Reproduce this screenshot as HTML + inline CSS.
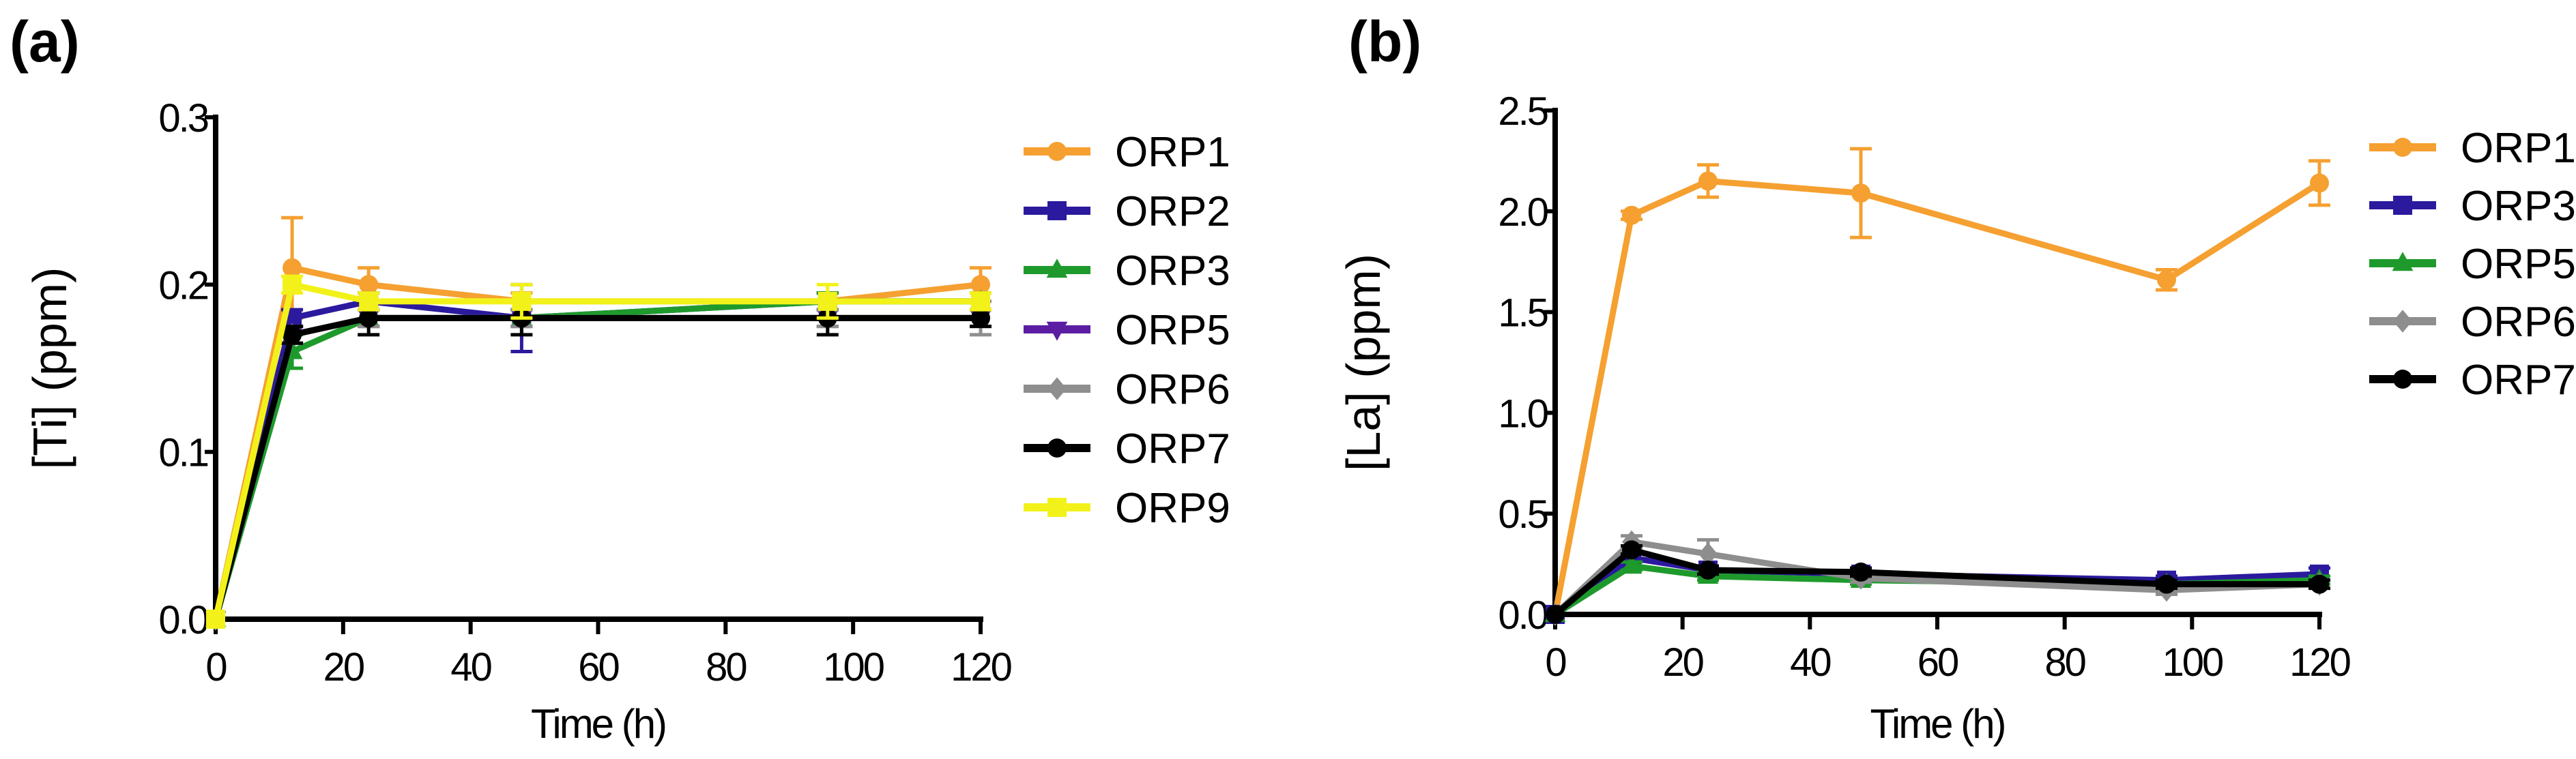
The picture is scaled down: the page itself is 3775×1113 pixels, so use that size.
<!DOCTYPE html>
<html><head><meta charset="utf-8"><style>
html,body{margin:0;padding:0;background:#fff;}
svg{display:block;font-family:"Liberation Sans",sans-serif;}
</style></head><body>
<svg id="fig" width="3775" height="1113" viewBox="0 0 3775 1113"></svg>
<script>
const timesH = [0, 12, 24, 48, 96, 120];
const xTicks = [0, 20, 40, 60, 80, 100, 120];

const aNames = ["ORP1","ORP2","ORP3","ORP5","ORP6","ORP7","ORP9"];
const aColors = ["#f5a031","#2b1a9e","#1e9a2c","#5b1ea3","#8e8e8e","#000000","#f2f21a"];
const aMarkers = ["circle","square","triUp","triDown","diamond","circle","square"];
const aORP1 = [0, 0.21, 0.20, 0.19, 0.19, 0.20];
const aORP2 = [0, 0.18, 0.19, 0.18, 0.19, 0.19];
const aORP3 = [0, 0.16, 0.18, 0.18, 0.19, 0.19];
const aORP5 = [0, 0.17, 0.18, 0.18, 0.18, 0.18];
const aORP6 = [0, 0.17, 0.18, 0.18, 0.18, 0.18];
const aORP7 = [0, 0.17, 0.18, 0.18, 0.18, 0.18];
const aORP9 = [0, 0.20, 0.19, 0.19, 0.19, 0.19];
const aErr1 = [0, 0.03, 0.01, 0.005, 0.005, 0.01];
const aErr2 = [0, 0.005, 0.005, 0.02, 0.005, 0.005];
const aErr3 = [0, 0.01, 0.005, 0.005, 0.005, 0.005];
const aErr5 = [0, 0.005, 0.005, 0.005, 0.005, 0.005];
const aErr6 = [0, 0.005, 0.005, 0.005, 0.005, 0.01];
const aErr7 = [0, 0.005, 0.01, 0.01, 0.01, 0.005];
const aErr9 = [0, 0.005, 0.005, 0.01, 0.01, 0.005];
const aYTicks = ["0.0","0.1","0.2","0.3"];

const bNames = ["ORP1","ORP3","ORP5","ORP6","ORP7"];
const bColors = ["#f5a031","#2b1a9e","#1e9a2c","#8e8e8e","#000000"];
const bMarkers = ["circle","square","triUp","diamond","circle"];
const bORP1 = [0, 1.98, 2.15, 2.09, 1.66, 2.14];
const bORP3 = [0, 0.28, 0.22, 0.20, 0.17, 0.20];
const bORP5 = [0, 0.24, 0.19, 0.17, 0.15, 0.17];
const bORP6 = [0, 0.36, 0.30, 0.18, 0.12, 0.15];
const bORP7 = [0, 0.32, 0.22, 0.21, 0.15, 0.15];
const bErr1 = [0, 0.02, 0.08, 0.22, 0.05, 0.11];
const bErr3 = [0, 0.02, 0.02, 0.02, 0.02, 0.03];
const bErr5 = [0, 0.02, 0.02, 0.02, 0.02, 0.02];
const bErr6 = [0, 0.03, 0.07, 0.02, 0.02, 0.02];
const bErr7 = [0, 0.02, 0.02, 0.02, 0.02, 0.02];
const bYTicks = ["0.0","0.5","1.0","1.5","2.0","2.5"];

const NS = "http://www.w3.org/2000/svg";
const svg = document.getElementById("fig");
function mk(tag, attrs, parent){const e=document.createElementNS(NS,tag);for(const k in attrs)e.setAttribute(k,attrs[k]);(parent||svg).appendChild(e);return e;}

function marker(g, kind, x, y, color, s){
  let e;
  if(kind==="circle") e=mk("circle",{cx:x,cy:y,r:s,fill:color},g);
  else if(kind==="square") e=mk("rect",{x:x-s,y:y-s,width:2*s,height:2*s,fill:color},g);
  else if(kind==="triUp") e=mk("polygon",{points:`${x},${y-s*1.2} ${x-s*1.1},${y+s*0.8} ${x+s*1.1},${y+s*0.8}`,fill:color},g);
  else if(kind==="triDown") e=mk("polygon",{points:`${x},${y+s*1.2} ${x-s*1.1},${y-s*0.8} ${x+s*1.1},${y-s*0.8}`,fill:color},g);
  else e=mk("polygon",{points:`${x},${y-s*1.2} ${x+s},${y} ${x},${y+s*1.2} ${x-s},${y}`,fill:color},g);
  
  
}

function panel(cfg){
  const g=mk("g",{});
  
  
  const X=v=>cfg.x0+(v/120)*(cfg.x1-cfg.x0);
  const Y=v=>cfg.y0-(v/cfg.ymax)*(cfg.y0-cfg.y1);
  const lab=mk("text",{x:cfg.labX,y:90,"font-size":84,"font-weight":"bold"},g);lab.textContent=cfg.label;
  
  const ya=mk("line",{x1:cfg.x0,y1:cfg.y1-4,x2:cfg.x0,y2:cfg.y0+4,stroke:"#000","stroke-width":8},g);
  
  const xa=mk("line",{x1:cfg.x0-4,y1:cfg.y0,x2:cfg.x1+4,y2:cfg.y0,stroke:"#000","stroke-width":8},g);
  
  cfg.yTicks.forEach(t=>{
    const y=Y(parseFloat(t));
    mk("line",{x1:cfg.x0-16,y1:y,x2:cfg.x0,y2:y,stroke:"#000","stroke-width":6},g);
    const tx=mk("text",{x:cfg.x0-12,y:y+21,"font-size":58,"text-anchor":"end","letter-spacing":-3},g);tx.textContent=t;
    
  });
  xTicks.forEach(t=>{
    const x=X(t);
    mk("line",{x1:x,y1:cfg.y0,x2:x,y2:cfg.y0+22,stroke:"#000","stroke-width":6},g);
    const tx=mk("text",{x:x,y:cfg.y0+90,"font-size":58,"text-anchor":"middle","letter-spacing":-3},g);tx.textContent=t;
    
  });
  const xt=mk("text",{x:(cfg.x0+cfg.x1)/2,y:1082,"font-size":60,"text-anchor":"middle","letter-spacing":-3},g);xt.textContent="Time (h)";
  
  const yt=mk("text",{x:0,y:0,"font-size":70,"text-anchor":"middle",transform:`translate(${cfg.yTitleX},${(cfg.y0+cfg.y1)/2}) rotate(-90)`},g);yt.textContent=cfg.yTitle;
  
  cfg.series.forEach((s,i)=>{
    const sg=mk("g",{},g);
    
    
    const col=cfg.colors[i];
    s.forEach((v,j)=>{
      const e=cfg.errs[i][j];if(!e)return;
      const x=X(timesH[j]);
      mk("line",{x1:x,y1:Y(v-e),x2:x,y2:Y(v+e),stroke:col,"stroke-width":5},sg);
      mk("line",{x1:x-16,y1:Y(v+e),x2:x+16,y2:Y(v+e),stroke:col,"stroke-width":5},sg);
      mk("line",{x1:x-16,y1:Y(v-e),x2:x+16,y2:Y(v-e),stroke:col,"stroke-width":5},sg);
    });
    const pts=s.map((v,j)=>X(timesH[j])+","+Y(v)).join(" ");
    const pl=mk("polyline",{points:pts,fill:"none",stroke:col,"stroke-width":9,"stroke-linejoin":"round"},sg);
    
    s.forEach((v,j)=>marker(sg,cfg.markers[i],X(timesH[j]),Y(v),col,14));
    const ly=cfg.legY0+i*cfg.legDY;
    const lg=mk("g",{},g);
    
    
    mk("line",{x1:cfg.legX,y1:ly,x2:cfg.legX+98,y2:ly,stroke:col,"stroke-width":12},lg);
    marker(lg,cfg.markers[i],cfg.legX+49,ly,col,14);
    const lt=mk("text",{x:cfg.legX+134,y:ly+22,"font-size":62},lg);lt.textContent=cfg.names[i];
  });
}

panel({id:"panel-a",label:"(a)",labX:14,x0:316,x1:1437,y0:908,y1:172,ymax:0.3,yTicks:aYTicks,
  yTitle:"[Ti] (ppm)",yTitleX:97,names:aNames,colors:aColors,markers:aMarkers,
  series:[aORP1,aORP2,aORP3,aORP5,aORP6,aORP7,aORP9],errs:[aErr1,aErr2,aErr3,aErr5,aErr6,aErr7,aErr9],
  legX:1500,legY0:222,legDY:87});
panel({id:"panel-b",label:"(b)",labX:1976,x0:2279,x1:3399,y0:901,y1:162,ymax:2.5,yTicks:bYTicks,
  yTitle:"[La] (ppm)",yTitleX:2022,names:bNames,colors:bColors,markers:bMarkers,
  series:[bORP1,bORP3,bORP5,bORP6,bORP7],errs:[bErr1,bErr3,bErr5,bErr6,bErr7],
  legX:3472,legY0:216,legDY:85});
</script>
</body></html>
